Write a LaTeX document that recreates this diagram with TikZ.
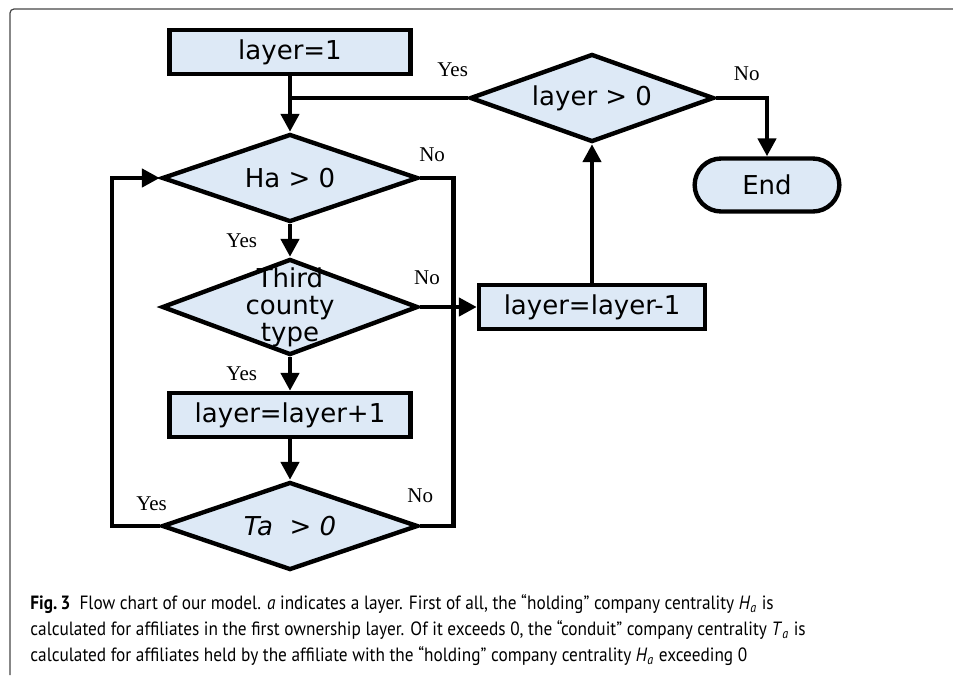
\documentclass[tikz,border=0pt]{standalone}
\usepackage{fontspec}
\usepackage{tikz}
\usetikzlibrary{shapes.geometric, arrows.meta, positioning}
\usetikzlibrary{calc,shapes.misc}
\newfontfamily\boxfont{DejaVu Sans}
\newfontfamily\labelfont{Liberation Serif}
\newfontfamily\capfont[FakeStretch=0.9]{PT Sans}
\definecolor{boxblue}{RGB}{221,233,246}
\definecolor{framegray}{RGB}{70,70,70}
\tikzstyle{arrow} = [line width=2.3pt,-{Triangle[length=9pt,width=9pt]}]
\tikzstyle{line} = [line width=2.3pt]
\tikzstyle{process} = [rectangle, draw=black, fill=boxblue, line width=2.2pt, minimum width=120.5pt, minimum height=22pt, font=\boxfont\fontsize{13}{15}\selectfont]
\tikzstyle{decision} = [diamond, aspect=2.9, draw=black, fill=boxblue, line width=2.2pt, inner sep=0pt, minimum width=128pt, minimum height=44pt, font=\boxfont\fontsize{13}{15}\selectfont]
\tikzstyle{terminal} = [rounded rectangle, draw=black, fill=boxblue, line width=2.2pt, minimum width=79pt, minimum height=26.5pt, font=\boxfont\fontsize{13}{15}\selectfont]
\tikzstyle{yesno} = [font=\labelfont\fontsize{10.5}{12}\selectfont]

\begin{document}
\begin{tikzpicture}[x=0.5pt, y=-0.5pt]
\useasboundingbox (0,0) rectangle (953,675);
% panel frame
\draw [framegray, line width=0.6pt, rounded corners=2pt] (953,9) -- (10,9) -- (10,675);

%----------------------------------------------------------------------------
% Placement of flowchart nodes
\node (startBox) [process] at (290,52) {layer=1};

% inner loop
\node (checkHa) [decision, below of=startBox, node distance=63pt] {Ha > 0};
\node (checkThird) [decision, below of=checkHa, node distance=64.5pt, minimum height=48pt,
  label={[font=\boxfont\fontsize{13}{13.5}\selectfont, align=center]center:Third\\county\\type}] {};
\node (incLayer) [process, below of=checkThird, node distance=54pt] {layer=layer+1};
\node (checkTa) [decision, below of=incLayer, node distance=55.5pt] {\itshape Ta\ \ > 0};

% outer branch
\node (decLayer) [process, right of=checkThird, node distance=151pt, minimum width=113pt] {layer=layer-1};
\node (checkLayer) [decision, above of=decLayer, node distance=104.5pt, minimum width=122pt] {layer > 0};
\node (endNode) [terminal, right of=checkLayer, node distance=87.5pt, yshift=-43.5pt] {End};

%----------------------------------------------------------------------------
% Drawing of lines of main chart
\draw [arrow] (startBox) -- (checkHa);
\draw [arrow] (checkHa) -- node[yesno, left=12pt] {Yes} (checkThird);
\draw [arrow] (checkThird) -- node[yesno, left=12pt] {Yes} (incLayer);
\draw [arrow] (incLayer) -- (checkTa);

%----------------------------------------------------------------------------
% Draw decision lines
\draw [arrow] (checkTa.west) -- node[yesno, pos=0.17, above=3pt] {Yes} ++(-24pt,0) |- (checkHa.west);
\draw [line] (checkHa.east) -- node[yesno, pos=0.36, above=3.5pt] {No} ++(16.5pt,0)
  |- node[yesno, pos=1, above=7pt] {No} (checkTa.east);
\draw [arrow] (checkThird.east) -- node[yesno, pos=0.12, above=6.5pt] {No} (decLayer.west);

\draw [arrow] (decLayer) -- (checkLayer);
\draw [line] (checkLayer.west) -- node[yesno, pos=0.085, above=6pt] {Yes} (checkLayer.west -| startBox.south);
\draw [arrow] (checkLayer.east) -| node[yesno, pos=0.3, above=4pt] {No} (endNode.north);

%----------------------------------------------------------------------------
% Caption
\node (caption) [anchor=north west, align=left, inner sep=0pt, font=\capfont\fontsize{9.6}{13}\selectfont] at (30,594)
{\textbf{Fig.\,3}\ \ Flow chart of our model. \textit{a} indicates a layer. First of all, the “holding” company centrality \textit{H}\textsubscript{\textit{a}} is\\
calculated for affiliates in the first ownership layer. Of it exceeds 0, the “conduit” company centrality \textit{T}\textsubscript{\textit{a}} is\\
calculated for affiliates held by the affiliate with the “holding” company centrality \textit{H}\textsubscript{\textit{a}} exceeding 0};
\end{tikzpicture}
\end{document}
